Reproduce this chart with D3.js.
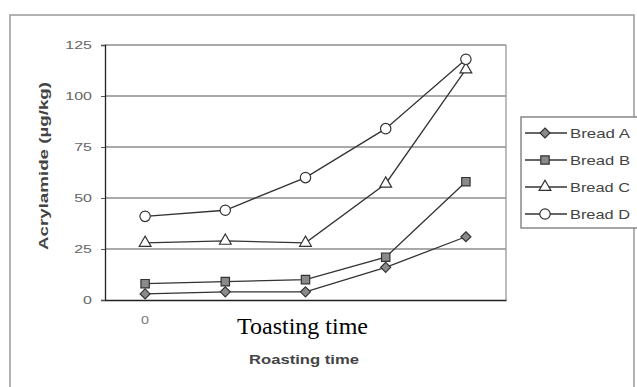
<!DOCTYPE html>
<html>
<head>
<meta charset="utf-8">
<script src="https://cdn.jsdelivr.net/npm/d3@7"></script>
<style>
  html, body { margin: 0; padding: 0; background: #fff; }
  svg { display: block; }
</style>
</head>
<body>
<svg id="chart" width="637" height="387"></svg>
<script>
// Roasting step index and acrylamide content (µg/kg) per bread type
const categories = ["0", "1", "2", "3", "4"];
const tickLabels = ["0", "", "", "", ""];
const breadA = [3, 4, 4, 16, 31];
const breadB = [8, 9, 10, 21, 58];
const breadC = [28, 29, 28, 57, 113];
const breadD = [41, 44, 60, 84, 118];
const seriesNames = ["Bread A", "Bread B", "Bread C", "Bread D"];
const yTicks = [0, 25, 50, 75, 100, 125];

// square turned 45°, as wide as it is tall
const symbolRhomb = {
  draw(context, size) {
    const r = Math.sqrt(size / 2);
    context.moveTo(0, -r);
    context.lineTo(r, 0);
    context.lineTo(0, r);
    context.lineTo(-r, 0);
    context.closePath();
  }
};

const series = [
  { name: seriesNames[0], values: breadA, symbol: symbolRhomb, size: 50, fill: "#8a8a8a" },
  { name: seriesNames[1], values: breadB, symbol: d3.symbolSquare, size: 70, fill: "#8a8a8a" },
  { name: seriesNames[2], values: breadC, symbol: d3.symbolTriangle, size: 60, fill: "#fff" },
  { name: seriesNames[3], values: breadD, symbol: d3.symbolCircle, size: 85, fill: "#fff" }
];

const svg = d3.select("#chart");
const plot = { left: 105, top: 45, right: 506, bottom: 300 };
const ink = "#333";
const font = "'Liberation Sans', Arial, sans-serif";

// outer frame
svg.append("rect")
  .attr("x", 10).attr("y", 15).attr("width", 624).attr("height", 400)
  .attr("fill", "none").attr("stroke", "#999").attr("stroke-width", 1.5);

const x = d3.scaleBand().domain(categories).range([plot.left, plot.right]);
const y = d3.scaleLinear().domain([0, 125]).range([plot.bottom, plot.top]);

// horizontal gridlines
svg.append("g")
  .selectAll("line")
  .data(yTicks.filter(t => t > 0))
  .join("line")
  .attr("x1", plot.left).attr("x2", plot.right)
  .attr("y1", d => y(d)).attr("y2", d => y(d))
  .attr("stroke", "#8c8c8c").attr("stroke-width", 1.3);

// right edge of plot area
svg.append("line")
  .attr("x1", plot.right).attr("x2", plot.right)
  .attr("y1", plot.top).attr("y2", plot.bottom)
  .attr("stroke", "#999").attr("stroke-width", 1.3);

// y axis
const yAxis = svg.append("g")
  .attr("transform", `translate(${plot.left},0)`)
  .call(d3.axisLeft(y).tickValues(yTicks).tickSize(4).tickPadding(0));
yAxis.select(".domain").attr("stroke", "#222").attr("stroke-width", 1.3);
yAxis.selectAll(".tick line").attr("stroke", "#555");
yAxis.selectAll(".tick text")
  .attr("x", -9)
  .attr("transform", "scale(1.45,1)")
  .attr("fill", "#666")
  .style("font-family", font)
  .style("font-size", "11px");

// x axis
const xAxis = svg.append("g")
  .attr("transform", `translate(0,${plot.bottom})`)
  .call(d3.axisBottom(x).tickSize(0).tickPadding(0).tickFormat((d, i) => tickLabels[i]));
xAxis.select(".domain").attr("stroke", "#222").attr("stroke-width", 1.3);
xAxis.selectAll(".tick text")
  .attr("x", 0)
  .attr("y", 24)
  .attr("dy", 0)
  .attr("transform", "scale(1.3,1)")
  .attr("fill", "#777")
  .style("font-family", font)
  .style("font-size", "11px");

// series lines and markers
const line = d3.line()
  .x((d, i) => x(categories[i]) + x.bandwidth() / 2)
  .y(d => y(d));

series.forEach(s => {
  svg.append("path")
    .datum(s.values)
    .attr("d", line)
    .attr("fill", "none")
    .attr("stroke", ink)
    .attr("stroke-width", 1.3);
});

series.forEach(s => {
  svg.append("g")
    .selectAll("path")
    .data(s.values)
    .join("path")
    .attr("transform", (d, i) => `translate(${x(categories[i]) + x.bandwidth() / 2},${y(d)})`)
    .attr("d", d3.symbol().type(s.symbol).size(s.size))
    .attr("fill", s.fill)
    .attr("stroke", ink)
    .attr("stroke-width", 1.2);
});

// overlay caption covering the remaining category labels
svg.append("rect")
  .attr("x", 215).attr("y", 302).attr("width", 180).attr("height", 42)
  .attr("fill", "#fff");
svg.append("text")
  .attr("x", 237).attr("y", 334)
  .attr("textLength", 131)
  .attr("lengthAdjust", "spacingAndGlyphs")
  .style("font-family", "'Liberation Serif', 'Times New Roman', serif")
  .style("font-size", "23px")
  .attr("fill", "#000")
  .text("Toasting time");

// axis titles
svg.append("text")
  .attr("x", 249).attr("y", 364)
  .attr("textLength", 110)
  .attr("lengthAdjust", "spacingAndGlyphs")
  .style("font-family", font)
  .style("font-size", "13px")
  .style("font-weight", "bold")
  .attr("fill", "#444")
  .text("Roasting time");

svg.append("text")
  .attr("transform", "translate(48,166) rotate(-90)")
  .attr("text-anchor", "middle")
  .attr("textLength", 168)
  .attr("lengthAdjust", "spacingAndGlyphs")
  .style("font-family", font)
  .style("font-size", "13px")
  .style("font-weight", "bold")
  .attr("fill", "#444")
  .text("Acrylamide (µg/kg)");

// legend
const legend = svg.append("g");
legend.append("rect")
  .attr("x", 521).attr("y", 117).attr("width", 130).attr("height", 111)
  .attr("fill", "#fff").attr("stroke", "#888").attr("stroke-width", 1.5);

const legendY = d3.scalePoint().domain(seriesNames).range([133, 214]);
series.forEach(s => {
  const cy = legendY(s.name);
  legend.append("line")
    .attr("x1", 525).attr("x2", 567).attr("y1", cy).attr("y2", cy)
    .attr("stroke", ink).attr("stroke-width", 1.3);
  legend.append("path")
    .attr("transform", `translate(545,${cy})`)
    .attr("d", d3.symbol().type(s.symbol).size(s.size))
    .attr("fill", s.fill).attr("stroke", ink).attr("stroke-width", 1.2);
  legend.append("text")
    .attr("x", 570).attr("y", cy + 5)
    .attr("textLength", 60)
    .attr("lengthAdjust", "spacingAndGlyphs")
    .style("font-family", font)
    .style("font-size", "13.5px")
    .attr("fill", "#444")
    .text(s.name);
});
</script>
</body>
</html>
